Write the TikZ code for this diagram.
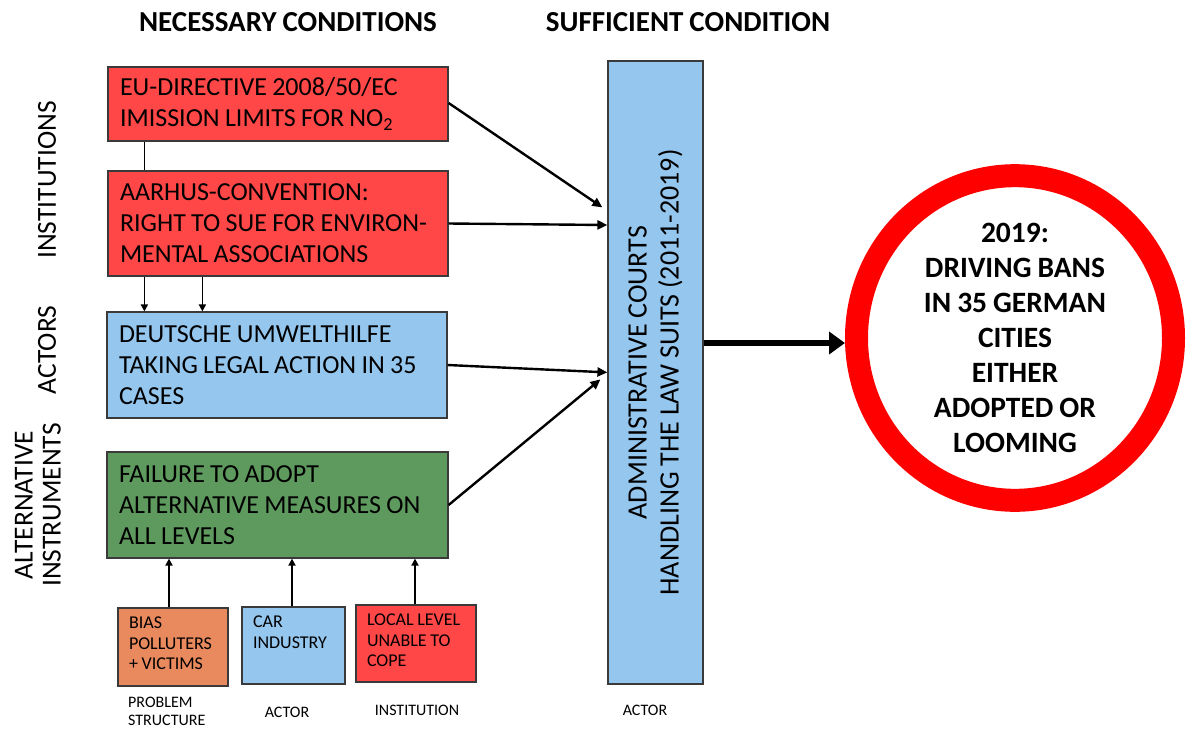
\documentclass[tikz,border=0pt]{standalone}
\usepackage{fontspec}
\setmainfont{Carlito}[WordSpace=0.9]
\usetikzlibrary{arrows.meta,shapes.geometric}
\definecolor{boxred}{HTML}{FF4747}
\definecolor{boxblue}{HTML}{95C6EE}
\definecolor{boxgreen}{HTML}{5E9A5E}
\definecolor{boxorange}{HTML}{E8895E}
\definecolor{edge}{HTML}{3A3A3A}
\definecolor{ringred}{HTML}{FF0000}
\begin{document}
\begin{tikzpicture}[x=1pt,y=-1pt,
  bigbox/.style={draw=edge,line width=1.2pt,rectangle,inner xsep=12pt,inner ysep=0pt,
     align=flush left,font=\fontsize{26}{31}\selectfont},
  smallbox/.style={draw=edge,line width=1.2pt,rectangle,inner xsep=11pt,inner ysep=9pt,
     font=\fontsize{18}{20.5}\selectfont},
  lbl/.style={font=\fontsize{16}{18}\selectfont,inner sep=0pt},
  head/.style={font=\bfseries\fontsize{29}{32}\selectfont,inner sep=0pt},
  side/.style={font=\fontsize{27.5}{28}\selectfont,rotate=90,align=center,inner sep=0pt},
  mainarrow/.style={line width=2.4pt,-{Triangle[length=10pt,width=9pt]}},
  smallarrow/.style={line width=1.8pt,-{Triangle[length=7pt,width=7pt]}},
  bigarrow/.style={line width=6pt,-{Triangle[length=16pt,width=22pt]}}
]
\useasboundingbox (0,0) rectangle (1187,729);

% headers
\node[head] (h1) at (288,22) {NECESSARY CONDITIONS};
\node[head] (h2) at (688,22) {SUFFICIENT CONDITION};

% side labels
\node[side] (s1) at (47,180) {INSTITUTIONS};
\node[side] (s2) at (47,350) {ACTORS};
\node[side] (s3) at (38,505) {ALTERNATIVE\\INSTRUMENTS};

% main boxes
\node[bigbox,fill=boxred,minimum width=340pt,minimum height=74pt,text width=316pt] (eu) at (278,104)
  {EU-DIRECTIVE 2008/50/EC\\IMISSION LIMITS FOR NO\textsubscript{2}};
\node[bigbox,fill=boxred,minimum width=340pt,minimum height=105pt,text width=316pt] (aarhus) at (278,223.5)
  {AARHUS-CONVENTION:\\RIGHT TO SUE FOR ENVIRON-\\MENTAL ASSOCIATIONS};
\node[bigbox,fill=boxblue,minimum width=340pt,minimum height=106pt,text width=316pt] (duh) at (277,365)
  {DEUTSCHE UMWELTHILFE\\TAKING LEGAL ACTION IN 35\\CASES};
\node[bigbox,fill=boxgreen,minimum width=341pt,minimum height=106pt,text width=317pt] (fail) at (277.5,505)
  {FAILURE TO ADOPT\\ALTERNATIVE MEASURES ON\\ALL LEVELS};

% small boxes
\node[smallbox,fill=boxorange] (bias) at (173,647)
  {\parbox[c][60pt][t]{88pt}{BIAS\\POLLUTERS\\+ VICTIMS}};
\node[smallbox,fill=boxblue] (car) at (293.5,645.5)
  {\parbox[c][59pt][t]{81pt}{CAR\\INDUSTRY}};
\node[smallbox,fill=boxred] (local) at (416,643.5)
  {\parbox[c][59pt][t]{98pt}{LOCAL LEVEL\\UNABLE TO\\COPE}};

% labels under
\node[lbl,align=left,anchor=west] (lp) at (128,711) {PROBLEM\\STRUCTURE};
\node[lbl] (la) at (287,712) {ACTOR};
\node[lbl] (li) at (417,710) {INSTITUTION};
\node[lbl] (lc) at (645,710) {ACTOR};

% courts
\node[draw=edge,line width=1.2pt,fill=boxblue,minimum width=95pt,minimum height=623pt,inner sep=0pt] (courts) at (655.5,372.5) {};
\node[side,font=\fontsize{28}{32}\selectfont] (ctext) at (courts.center)
  {ADMINISTRATIVE COURTS\\HANDLING THE LAW SUITS (2011-2019)};

% outcome
\node[ellipse,draw=ringred,line width=23pt,fill=white,minimum width=317pt,minimum height=293pt,inner sep=0pt,
  align=center,font=\bfseries\fontsize{29.5}{35}\selectfont] (circ) at (1015,338)
  {2019:\\DRIVING BANS\\IN 35 GERMAN\\CITIES\\EITHER\\ADOPTED OR\\LOOMING};

% connectors
\draw[line width=1.8pt] ([xshift=37pt]eu.south west) -- ([xshift=37pt]eu.south west |- aarhus.north);
\draw[smallarrow] ([xshift=37pt]aarhus.south west) -- ([xshift=37pt]aarhus.south west |- duh.north);
\draw[smallarrow] ([xshift=95pt]aarhus.south west) -- ([xshift=95pt]aarhus.south west |- duh.north);

\draw[smallarrow] ([xshift=-4pt]bias.north) -- ([xshift=-4pt]bias.north |- fail.south);
\draw[smallarrow] ([xshift=-1.5pt]car.north) -- ([xshift=-1.5pt]car.north |- fail.south);
\draw[smallarrow] ([xshift=-1pt]local.north) -- ([xshift=-1pt]local.north |- fail.south);

\draw[mainarrow] ([yshift=1pt]eu.east) -- ([shift={(-5pt,-147pt)}]courts.north west);
\draw[mainarrow] (aarhus.east) -- ([yshift=-1.5pt]courts.west |- aarhus.east);
\draw[mainarrow] (duh.east) -- ([shift={(0pt,-312pt)}]courts.north west);
\draw[mainarrow] (fail.east) -- ([shift={(-7pt,-319pt)}]courts.north west);

\coordinate (bs) at (courts.east |- circ.west);
\coordinate (be) at (circ.west);
\draw[bigarrow] ([yshift=-5pt]bs) -- ([yshift=-5pt]be);
\end{tikzpicture}
\end{document}
